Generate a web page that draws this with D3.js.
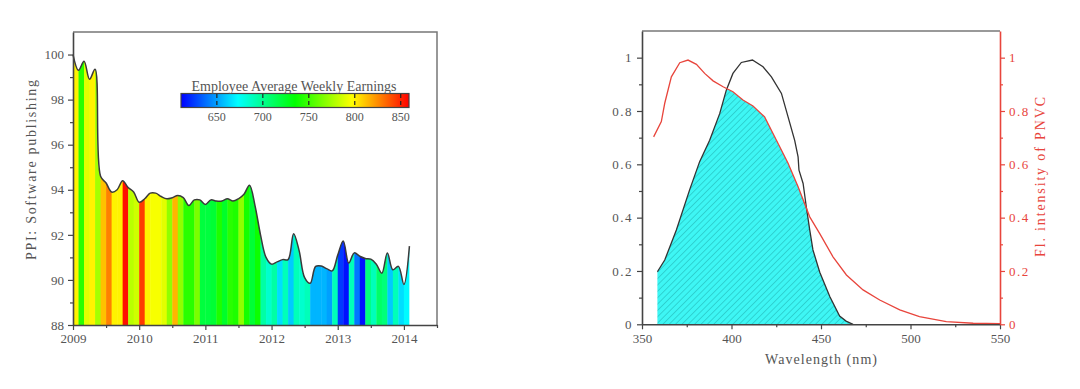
<!DOCTYPE html>
<html lang="en">
<head>
  <meta charset="UTF-8">
  <title></title>
  <style>
    html, body {
      margin: 0;
      overflow: hidden;
      width: 100%;
      height: 100%;
      background: #fff;
    }
    svg {
      position: absolute;
      top: 0;
      left: 0;
    }
    text {
      font-family: "Liberation Serif", "DejaVu Serif", serif;
    }
  </style>
</head>
<body>
  <svg width="1080" height="389"></svg>
</body>
<script src="https://d3js.org/d3.v7.min.js"></script>
<script type="text/javascript">
  // left panel: monthly PPI from Jan 2009, stripes coloured by weekly earnings
  const ppiStart = 2009
  const ppi = [100.0, 99.3, 99.7, 98.9, 99.35, 94.6, 94.3, 93.9, 94.0, 94.4, 94.1, 93.9,
    93.45, 93.6, 93.85, 93.85, 93.7, 93.6, 93.65, 93.75, 93.65, 93.3, 93.55, 93.55,
    93.35, 93.55, 93.5, 93.5, 93.6, 93.5, 93.6, 93.8, 94.2, 93.3, 92.0, 91.0,
    90.7, 90.8, 90.9, 90.9, 92.05, 91.3, 90.1, 89.85, 90.6, 90.62, 90.5, 90.4,
    91.1, 91.73, 90.75, 91.2, 91.05, 90.95, 90.92, 90.7, 90.3, 91.2, 90.45, 90.6,
    89.8, 91.5]
  const earnings = [800, 745, 790, 800, 775, 812, 828, 800, 800, 855, 780, 785,
    845, 800, 795, 795, 790, 770, 815, 770, 745, 745, 765, 720,
    720, 722, 742, 725, 745, 742, 770, 740, 722, 738, 695, 685,
    695, 665, 690, 660, 690, 685, 690, 655, 655, 655, 650, 690,
    625, 615, 690, 640, 615, 705, 690, 710, 705, 660, 690, 665, 672]
  const yearTicks = [2009, 2010, 2011, 2012, 2013, 2014]
  const ppiTicks = [88, 90, 92, 94, 96, 98, 100]
  const earnTicks = [650, 700, 750, 800, 850]
  const earnStops = [611, 673, 735, 797, 859]
  const earnColors = ['#0000ff', '#00ffff', '#00ff00', '#ffff00', '#ff0000']

  // right panel: absorption (black) and fluorescence of PNVC (red)
  const absWl = [358.6, 362.7, 369.2, 376.6, 382.2, 387.8, 393.4, 397.1, 400.8, 405.5, 411.7,
    417.6, 422.3, 427.9, 431.6, 435.3, 437.2, 437.7, 440, 441.8, 443.7, 445.5, 449.3,
    454.9, 460.4, 464, 467.9]
  const absVal = [0.197, 0.241, 0.354, 0.504, 0.61, 0.69, 0.79, 0.878, 0.941, 0.982, 0.991,
    0.966, 0.928, 0.866, 0.778, 0.69, 0.628, 0.578, 0.528, 0.44, 0.354, 0.279, 0.195,
    0.104, 0.031, 0.012, 0.0]
  const flWl = [356.5, 360.8, 362.7, 366.4, 371.1, 375.7, 380.4, 385, 389.7, 395.3, 400.8,
    406.4, 412, 418.5, 425.1, 431.6, 437.2, 443.7, 449.3, 456.7, 464.2, 473.5, 482.8,
    494, 505, 520, 535, 550]
  const flVal = [0.703, 0.76, 0.829, 0.928, 0.981, 0.991, 0.975, 0.941, 0.913, 0.891, 0.872,
    0.841, 0.819, 0.778, 0.69, 0.604, 0.516, 0.403, 0.34, 0.253, 0.185, 0.129, 0.091,
    0.054, 0.029, 0.01, 0.004, 0.002]
  const wlTicks = [350, 400, 450, 500, 550]
  const intTicks = [0, 0.2, 0.4, 0.6, 0.8, 1]

  const svg = d3.select('svg')
  const axisColor = '#444'
  const labelColor = '#555'
  const red = '#e8453c'

  const defs = svg.append('defs')

  // ---------- left chart ----------
  const xL = d3.scaleLinear().domain([2009, 2014.5]).range([73, 437])
  const yL = d3.scaleLinear().domain([88, 101]).range([325, 32])
  const color = d3.scaleLinear().domain(earnStops).range(earnColors)

  const months = ppi.map((v, i) => ({ t: ppiStart + i / 12, v }))

  const ppiArea = d3.area()
    .x(d => xL(d.t))
    .y0(yL(88))
    .y1(d => yL(d.v))
    .curve(d3.curveCatmullRom.alpha(0.5))
  const ppiLine = d3.line()
    .x(d => xL(d.t))
    .y(d => yL(d.v))
    .curve(d3.curveCatmullRom.alpha(0.5))

  defs.append('clipPath').attr('id', 'ppiClip')
    .append('path').attr('d', ppiArea(months))

  svg.append('g')
    .attr('clip-path', 'url(#ppiClip)')
    .selectAll('rect')
    .data(earnings)
    .enter()
    .append('rect')
    .attr('x', (e, i) => xL(months[i].t))
    .attr('width', (e, i) => xL(months[i + 1].t) - xL(months[i].t) + 0.4)
    .attr('y', yL(101))
    .attr('height', yL(88) - yL(101))
    .attr('fill', e => color(e))

  svg.append('path')
    .attr('d', ppiLine(months))
    .attr('fill', 'none')
    .attr('stroke', '#3a3a3a')
    .attr('stroke-width', 1.5)

  // frame
  svg.append('path')
    .attr('d', `M${xL(2009)},${yL(101)}H${xL(2014.5)}V${yL(88)}`)
    .attr('fill', 'none')
    .attr('stroke', '#777')
    .attr('stroke-width', 1.5)

  const styleAxis = (g) => {
    g.select('.domain').attr('stroke', axisColor).attr('stroke-width', 1.6)
    g.selectAll('.tick line').attr('stroke', axisColor).attr('stroke-width', 1.2)
    g.selectAll('.tick text').attr('fill', labelColor)
      .style('font-family', '"Liberation Serif", serif').style('font-size', '13px')
  }

  svg.append('g')
    .attr('transform', `translate(0,${yL(88)})`)
    .call(d3.axisBottom(xL).tickValues(yearTicks).tickFormat(d3.format('d')).tickSize(5).tickSizeOuter(0).tickPadding(4))
    .call(styleAxis)
  svg.append('g')
    .attr('transform', `translate(0,${yL(88)})`)
    .call(d3.axisBottom(xL).tickValues(yearTicks.map(d => d + 0.5)).tickFormat('').tickSize(3).tickSizeOuter(0))
    .call(g => g.select('.domain').remove())
    .call(styleAxis)

  svg.append('g')
    .attr('transform', `translate(${xL(2009)},0)`)
    .call(d3.axisLeft(yL).tickValues(ppiTicks).tickSize(5).tickSizeOuter(0).tickPadding(4))
    .call(styleAxis)
  svg.append('g')
    .attr('transform', `translate(${xL(2009)},0)`)
    .call(d3.axisLeft(yL).tickValues(ppiTicks.slice(0, -1).map(d => d + 1)).tickFormat('').tickSize(3).tickSizeOuter(0))
    .call(g => g.select('.domain').remove())
    .call(styleAxis)

  svg.append('text')
    .attr('transform', 'translate(36,170) rotate(-90)')
    .attr('text-anchor', 'middle')
    .attr('fill', labelColor)
    .style('font-size', '14px')
    .attr('textLength', 180)
    .attr('lengthAdjust', 'spacing')
    .text('PPI: Software publishing')

  // colour bar
  const cb = d3.scaleLinear().domain([611, 859]).range([181, 409])
  const grad = defs.append('linearGradient').attr('id', 'earnGrad')
  earnStops.forEach((s, i) => {
    grad.append('stop')
      .attr('offset', (s - 611) / (859 - 611))
      .attr('stop-color', earnColors[i])
  })
  svg.append('rect')
    .attr('x', cb(611)).attr('y', 93.5)
    .attr('width', cb(859) - cb(611)).attr('height', 14)
    .attr('fill', 'url(#earnGrad)')
    .attr('stroke', '#444').attr('stroke-width', 1.2)
  svg.selectAll('.cbtick')
    .data(earnTicks)
    .enter()
    .append('line')
    .attr('x1', d => cb(d)).attr('x2', d => cb(d))
    .attr('y1', 94).attr('y2', 107)
    .attr('stroke', '#222').attr('stroke-width', 1.2)
    .attr('stroke-dasharray', '4,3')
  svg.selectAll('.cblabel')
    .data(earnTicks)
    .enter()
    .append('text')
    .attr('x', d => cb(d)).attr('y', 121)
    .attr('text-anchor', 'middle')
    .attr('fill', labelColor)
    .style('font-size', '12px')
    .text(d => d)
  svg.append('text')
    .attr('x', 294).attr('y', 91)
    .attr('text-anchor', 'middle')
    .attr('fill', labelColor)
    .style('font-size', '14px')
    .attr('textLength', 205)
    .attr('lengthAdjust', 'spacing')
    .text('Employee Average Weekly Earnings')

  // ---------- right chart ----------
  const xR = d3.scaleLinear().domain([350, 550]).range([642, 1000])
  const yR = d3.scaleLinear().domain([0, 1.1]).range([324.3, 31])

  const interp = (xs, ys) => x => {
    if (x <= xs[0]) return ys[0]
    if (x >= xs[xs.length - 1]) return ys[ys.length - 1]
    const i = d3.bisectRight(xs, x)
    const f = (x - xs[i - 1]) / (xs[i] - xs[i - 1])
    return ys[i - 1] + f * (ys[i] - ys[i - 1])
  }
  const absAt = interp(absWl, absVal)
  const flAt = interp(flWl, flVal)

  // overlap region = min of both curves
  const lo = absWl[0], hi = absWl[absWl.length - 1]
  const xs = Array.from(new Set(absWl.concat(flWl.filter(w => w > lo && w < hi)))).sort((a, b) => a - b)
  const overlap = []
  xs.forEach((x, k) => {
    if (k > 0) {
      const xp = xs[k - 1]
      const dp = absAt(xp) - flAt(xp), dc = absAt(x) - flAt(x)
      if (dp * dc < 0) {
        const xc = xp + (x - xp) * dp / (dp - dc)
        overlap.push({ w: xc, v: absAt(xc) })
      }
    }
    overlap.push({ w: x, v: Math.min(absAt(x), flAt(x)) })
  })

  const hatch = defs.append('pattern')
    .attr('id', 'hatch')
    .attr('patternUnits', 'userSpaceOnUse')
    .attr('width', 4.5).attr('height', 4.5)
    .attr('patternTransform', 'rotate(45)')
  hatch.append('rect').attr('width', 4.5).attr('height', 4.5).attr('fill', '#3ef6f4')
  hatch.append('line').attr('x1', 0).attr('y1', 0).attr('x2', 0).attr('y2', 4.5)
    .attr('stroke', '#1fb0b0').attr('stroke-width', 1)

  svg.append('path')
    .attr('d', d3.area().x(d => xR(d.w)).y0(yR(0)).y1(d => yR(d.v))(overlap))
    .attr('fill', 'url(#hatch)')

  const specLine = d3.line().x(d => xR(d[0])).y(d => yR(d[1]))
  svg.append('path')
    .attr('d', specLine(d3.zip(absWl, absVal)))
    .attr('fill', 'none')
    .attr('stroke', '#333')
    .attr('stroke-width', 1.3)
  svg.append('path')
    .attr('d', specLine(d3.zip(flWl, flVal)))
    .attr('fill', 'none')
    .attr('stroke', red)
    .attr('stroke-width', 1.3)

  svg.append('line')
    .attr('x1', xR(350)).attr('x2', xR(550))
    .attr('y1', yR(1.1)).attr('y2', yR(1.1))
    .attr('stroke', '#777').attr('stroke-width', 1.5)

  const intFormat = d => (d === 0 || d === 1) ? d3.format('d')(d) : d3.format('.1f')(d)
  const minorInt = [0.1, 0.3, 0.5, 0.7, 0.9]

  svg.append('g')
    .attr('transform', `translate(0,${yR(0)})`)
    .call(d3.axisBottom(xR).tickValues(wlTicks).tickSize(5).tickSizeOuter(0).tickPadding(4))
    .call(styleAxis)
  svg.append('g')
    .attr('transform', `translate(0,${yR(0)})`)
    .call(d3.axisBottom(xR).tickValues([375, 425, 475, 525]).tickFormat('').tickSize(3).tickSizeOuter(0))
    .call(g => g.select('.domain').remove())
    .call(styleAxis)

  svg.append('g')
    .attr('transform', `translate(${xR(350)},0)`)
    .call(d3.axisLeft(yR).tickValues(intTicks).tickFormat(intFormat).tickSize(5).tickSizeOuter(0).tickPadding(4))
    .call(styleAxis)
    .call(g => g.selectAll('.tick text').attr('letter-spacing', 1.5))
  svg.append('g')
    .attr('transform', `translate(${xR(350)},0)`)
    .call(d3.axisLeft(yR).tickValues(minorInt).tickFormat('').tickSize(3).tickSizeOuter(0))
    .call(g => g.select('.domain').remove())
    .call(styleAxis)

  const redAxis = (g) => {
    g.select('.domain').attr('stroke', red).attr('stroke-width', 1.6)
    g.selectAll('.tick line').attr('stroke', red).attr('stroke-width', 1.2)
    g.selectAll('.tick text').attr('fill', red)
      .style('font-family', '"Liberation Serif", serif').style('font-size', '13px')
  }
  svg.append('g')
    .attr('transform', `translate(${xR(550)},0)`)
    .call(d3.axisRight(yR).tickValues(intTicks).tickFormat(intFormat).tickSize(5).tickSizeOuter(0).tickPadding(4))
    .call(redAxis)
    .call(g => g.selectAll('.tick text').attr('letter-spacing', 1.5))
  svg.append('g')
    .attr('transform', `translate(${xR(550)},0)`)
    .call(d3.axisRight(yR).tickValues(minorInt).tickFormat('').tickSize(3).tickSizeOuter(0))
    .call(g => g.select('.domain').remove())
    .call(redAxis)

  svg.append('text')
    .attr('x', 821).attr('y', 364)
    .attr('text-anchor', 'middle')
    .attr('fill', labelColor)
    .style('font-size', '14px')
    .attr('textLength', 112)
    .attr('lengthAdjust', 'spacing')
    .text('Wavelength (nm)')

  svg.append('text')
    .attr('transform', 'translate(1045,177) rotate(-90)')
    .attr('text-anchor', 'middle')
    .attr('fill', red)
    .style('font-size', '14px')
    .attr('textLength', 160)
    .attr('lengthAdjust', 'spacing')
    .text('Fl. intensity of PNVC')
</script>
</html>
